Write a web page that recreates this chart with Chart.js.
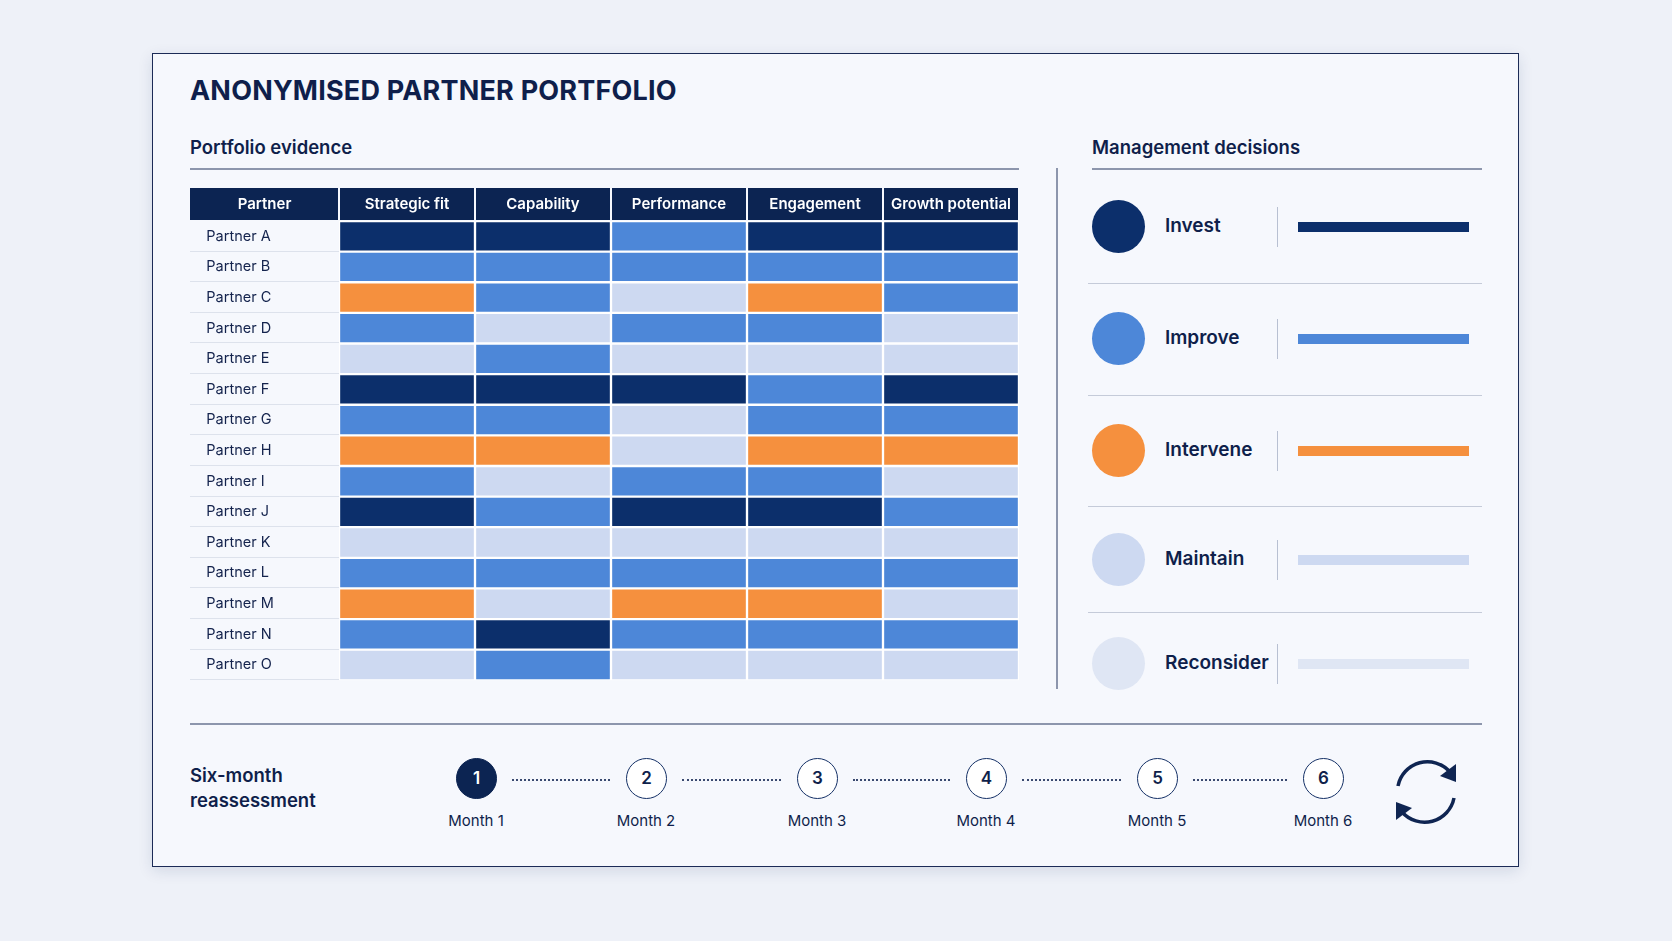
<!DOCTYPE html>
<html><head><meta charset="utf-8">
<script src="https://cdn.jsdelivr.net/npm/chart.js@4"></script>
<style>
body{margin:0;background:#eef1f8;font-family:Inter,"Noto Sans",sans-serif;color:#0f1f4b;width:1672px;height:941px;overflow:hidden;position:relative}
.card{position:absolute;left:152px;top:53px;width:1367px;height:814px;background:#f6f8fd;border:1.5px solid #1c2b57;box-shadow:0 4px 14px rgba(20,40,90,.12);box-sizing:border-box}
.abs{position:absolute}
h1{position:absolute;left:190px;top:74px;margin:0;font-size:27px;font-weight:700;letter-spacing:.2px}
.sub{font-size:18.5px;font-weight:600}
.hr{position:absolute;height:1.5px;background:#8d96ad}
.leg{position:absolute;left:1088px;width:394px;height:0}
.dot{position:absolute;left:4px;top:-27px;width:53px;height:53px;border-radius:50%}
.lbl{position:absolute;left:77px;top:-13px;font-size:19px;font-weight:600}
.vs{position:absolute;left:189px;top:-20px;width:1px;height:40px;background:#b8c0d2}
.bar{position:absolute;left:210px;top:-5px;width:171px;height:10px}
.mc{position:absolute;width:41px;height:41px;border-radius:50%;border:1.5px solid #143066;background:#fff;box-sizing:border-box;text-align:center;line-height:38px;font-size:17px;font-weight:600}
.ml{position:absolute;width:100px;text-align:center;font-size:15px}
.dots{position:absolute;top:779px;border-top:2px dotted #3a4a70;height:0}
</style></head><body>
<div class="card"></div>
<h1>ANONYMISED PARTNER PORTFOLIO</h1>
<div class="abs sub" style="left:190px;top:136px">Portfolio evidence</div>
<div class="hr" style="left:190px;top:168px;width:829px"></div>
<div class="abs" style="left:1056px;top:168px;width:1.5px;height:521px;background:#8d96ad"></div>
<div class="abs sub" style="left:1092px;top:136px">Management decisions</div>
<div class="hr" style="left:1092px;top:168px;width:390px"></div>
<div id="legend"></div>
<div class="hr" style="left:190px;top:723px;width:1292px"></div>
<div class="abs" style="left:190px;top:763px;font-size:18.5px;font-weight:600;line-height:25px">Six-month<br>reassessment</div>
<div id="months"></div>
<svg class="abs" style="left:1386px;top:752px" width="80" height="80" viewBox="0 0 80 80">
<path d="M12 34 A30 30 0 0 1 64 20" fill="none" stroke="#0f2552" stroke-width="3.5"/>
<path d="M68 46 A30 30 0 0 1 16 60" fill="none" stroke="#0f2552" stroke-width="3.5"/>
<polygon points="70,12 70,30 54,24" fill="#0f2552"/>
<polygon points="10,68 10,50 26,56" fill="#0f2552"/>
</svg>
<div class="abs" style="left:190px;top:188px;width:829px;height:501px"><canvas id="c"></canvas></div>
<script>
const partners = ['Partner A','Partner B','Partner C','Partner D','Partner E','Partner F','Partner G','Partner H','Partner I','Partner J','Partner K','Partner L','Partner M','Partner N','Partner O'];
const criteria = ['Strategic fit','Capability','Performance','Engagement','Growth potential'];
const decisions = ['Invest','Improve','Intervene','Maintain','Reconsider'];
const decisionColors = ['#0c2f6b','#4d87d8','#f5903e','#cdd9f1','#dfe6f4'];
// decision index per partner, one entry per criterion
const strategicFit = [0,1,2,1,3,0,1,2,1,0,3,1,2,1,3];
const capability   = [0,1,1,3,1,0,1,2,3,1,3,1,3,0,1];
const performance  = [1,1,3,1,3,0,3,3,1,0,3,1,2,1,3];
const engagement   = [0,1,2,1,3,1,1,2,1,0,3,1,2,1,3];
const growth       = [0,1,1,3,3,0,1,2,3,1,3,1,3,1,3];
const grid = [strategicFit, capability, performance, engagement, growth];
const months = ['Month 1','Month 2','Month 3','Month 4','Month 5','Month 6'];

// legend
let lg = '';
const ly = [227,339,451,560,664];
decisions.forEach((d,i)=>{
  lg += `<div class="leg" style="top:${ly[i]}px"><div class="dot" style="background:${decisionColors[i]}"></div><div class="lbl">${d}</div><div class="vs"></div><div class="bar" style="background:${decisionColors[i]}"></div></div>`;
  if(i<4) lg += `<div class="hr" style="left:1088px;width:394px;top:${Math.round((ly[i]+ly[i+1])/2)}px;background:#c5cbd9;height:1px"></div>`;
});
document.getElementById('legend').innerHTML = lg;

let mh = '';
const mx = [476,646,817,986,1157,1323];
months.forEach((m,i)=>{
  const first = i===0;
  mh += `<div class="mc" style="left:${mx[i]-20}px;top:758px;${first?'background:#0c2452;color:#fff;border-color:#0c2452':''}">${i+1}</div>`;
  mh += `<div class="ml" style="left:${mx[i]-50}px;top:811px">${m}</div>`;
  if(i<5) mh += `<div class="dots" style="left:${mx[i]+36}px;width:${mx[i+1]-mx[i]-72}px"></div>`;
});
document.getElementById('months').innerHTML = mh;

const headerPlugin = {
  id:'header',
  afterDraw(chart){
    const {ctx, scales:{x,y}, chartArea:a} = chart;
    ctx.save();
    const top = a.top - 33, h = 32;
    ctx.fillStyle = '#0c2452';
    ctx.fillRect(0, top, a.left - 1, h);
    ctx.font = '600 15px Inter, sans-serif';
    ctx.textAlign = 'center'; ctx.textBaseline = 'middle';
    criteria.forEach((c,i)=>{
      const l = x.getPixelForValue(i), r = x.getPixelForValue(i+1);
      ctx.fillStyle = '#0c2452';
      ctx.fillRect(l+1, top, r-l-2, h);
      ctx.fillStyle = '#fff';
      ctx.fillText(c, (l+r)/2, top+h/2);
    });
    ctx.fillStyle = '#fff';
    ctx.fillText('Partner', (a.left)/2, top+h/2);
    ctx.strokeStyle = '#dde2ec'; ctx.lineWidth = 1;
    const step = (a.bottom - a.top)/partners.length;
    for(let i=1;i<=partners.length;i++){
      const yy = Math.round(a.top + i*step) - 0.5;
      ctx.beginPath(); ctx.moveTo(0, yy); ctx.lineTo(a.left, yy); ctx.stroke();
    }
    ctx.restore();
  }
};

new Chart(document.getElementById('c'), {
  type:'bar',
  data:{
    labels: partners,
    datasets: criteria.map((c,ci)=>({
      label:c,
      data: partners.map(()=>1),
      backgroundColor: ctx => decisionColors[grid[ci][ctx.dataIndex]],
      borderColor:'#ffffff',
      borderWidth:1.5,
      borderSkipped:false,
      barPercentage:1,
      categoryPercentage:1
    }))
  },
  options:{
    indexAxis:'y',
    responsive:true, maintainAspectRatio:false, animation:false,
    layout:{padding:{top:33,left:0,right:0,bottom:0}},
    plugins:{legend:{display:false},tooltip:{enabled:false}},
    scales:{
      x:{stacked:true,min:0,max:5,display:false},
      y:{stacked:true,grid:{display:false},border:{display:false},
         afterFit(s){s.width = 149;},
         ticks:{mirror:false,crossAlign:'far',padding:0,color:'#14234d',font:{size:14.5,family:'Inter, sans-serif'},
           callback(v){return '    '+partners[v];}}}
    }
  },
  plugins:[headerPlugin]
});
</script>
</body></html>
